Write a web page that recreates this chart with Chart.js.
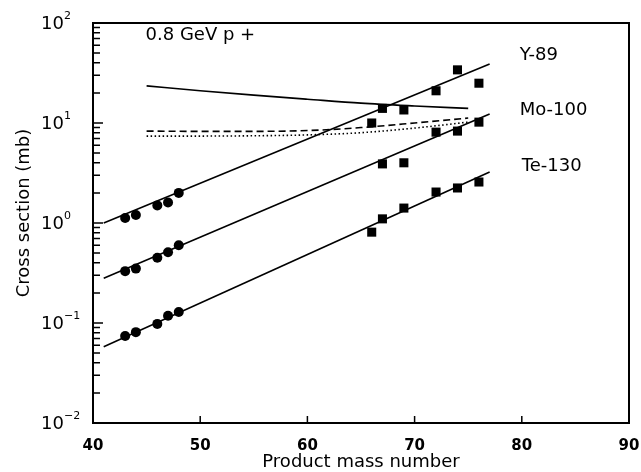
<!DOCTYPE html>
<html>
<head>
<meta charset="utf-8">
<script src="https://cdn.jsdelivr.net/npm/chart.js@4.4.1/dist/chart.umd.min.js"></script>
<style>
  html, body { margin: 0; padding: 0; background: #fff; }
</style>
</head>
<body>
<canvas id="chart1" width="641" height="472"></canvas>
<script>
// measured cross sections, 0.8 GeV protons
const massLow = [43, 44, 46, 47, 48];
const massHigh = [66, 67, 69, 72, 74, 76];
const massHighMo = [67, 69, 72, 74, 76];

const y89Low = [1.12, 1.2, 1.5, 1.6, 2.0];
const y89High = [10, 14, 13.5, 21, 34, 25];
const mo100Low = [0.33, 0.35, 0.45, 0.51, 0.6];
const mo100High = [3.9, 4.0, 8.1, 8.3, 10.2];
const te130Low = [0.074, 0.081, 0.098, 0.118, 0.129];
const te130High = [0.81, 1.1, 1.41, 2.04, 2.24, 2.57];

// fitted exponential lines
const fitMass = [41, 77];
const y89Fit = [1.0, 39];
const mo100Fit = [0.28, 12.3];
const te130Fit = [0.058, 3.24];

// calculated curves
const theoryMass = [45, 50, 55, 60, 65, 70, 75];
const theorySolid = [23.5, 21, 19, 17.3, 15.8, 14.8, 14.0];
const theoryDashed = [8.3, 8.25, 8.25, 8.4, 9.0, 10.0, 11.2];
const theoryDotted = [7.4, 7.4, 7.45, 7.6, 8.0, 8.9, 10.2];

const xTicks = [40, 50, 60, 70, 80, 90];
const yDecades = [-2, -1, 0, 1, 2];

// annotation text: [label, mass, cross section]
const notes = [
  ['0.8 GeV p +', 44.9, 76],
  ['Y-89', 79.8, 48],
  ['Mo-100', 79.8, 13.5],
  ['Te-130', 80, 3.7]
];

const FONT = '"DejaVu Sans", sans-serif';

const pts = (xs, ys) => xs.map((x, i) => ({ x: x, y: ys[i] }));

function marks(xs, ys, style) {
  return {
    type: 'scatter',
    data: pts(xs, ys),
    pointStyle: style,
    pointRadius: style === 'rect' ? 6.4 : 5,
    backgroundColor: '#000',
    borderColor: '#000',
    borderWidth: 0
  };
}

function line(xs, ys, dash, smooth) {
  return {
    type: 'line',
    data: pts(xs, ys),
    borderColor: '#000',
    borderWidth: 1.6,
    borderDash: dash,
    pointRadius: 0,
    cubicInterpolationMode: smooth ? 'monotone' : 'default',
    tension: 0,
    fill: false
  };
}

// frame, inward ticks, y labels with exponents, axis titles and notes
const decor = {
  id: 'decor',
  afterDraw(chart) {
    const { ctx, chartArea: a, scales } = chart;
    const xs = scales.x, ys = scales.y;
    ctx.save();
    ctx.strokeStyle = '#000';
    ctx.lineWidth = 2;
    ctx.beginPath();
    ctx.moveTo(a.left, a.top);
    ctx.lineTo(a.right, a.top);
    ctx.lineTo(a.right, a.bottom);
    ctx.stroke();

    ctx.lineWidth = 1.5;
    ctx.beginPath();
    xTicks.slice(1, -1).forEach(v => {
      const px = xs.getPixelForValue(v);
      ctx.moveTo(px, a.bottom);
      ctx.lineTo(px, a.bottom - 7);
    });
    yDecades.forEach((d, i) => {
      const py = ys.getPixelForValue(Math.pow(10, d));
      if (i > 0 && i < yDecades.length - 1) {
        ctx.moveTo(a.left, py);
        ctx.lineTo(a.left + 10, py);
      }
      if (i < yDecades.length - 1) {
        for (let m = 2; m <= 9; m++) {
          const pm = ys.getPixelForValue(m * Math.pow(10, d));
          ctx.moveTo(a.left, pm);
          ctx.lineTo(a.left + 7, pm);
        }
      }
    });
    ctx.stroke();

    ctx.fillStyle = '#000';
    ctx.textBaseline = 'middle';
    yDecades.forEach(d => {
      const py = ys.getPixelForValue(Math.pow(10, d));
      const exp = d < 0 ? '\u2212' + Math.abs(d) : String(d);
      ctx.font = '11px ' + FONT;
      ctx.textAlign = 'left';
      ctx.fillText(exp, 64, py - 7);
      ctx.font = '18px ' + FONT;
      ctx.textAlign = 'right';
      ctx.fillText('10', 64, py + 1);
    });

    ctx.font = '18px ' + FONT;
    ctx.textAlign = 'center';
    ctx.fillText('Product mass number', (a.left + a.right) / 2, 462);
    ctx.save();
    ctx.translate(24, 213);
    ctx.rotate(-Math.PI / 2);
    ctx.fillText('Cross section (mb)', 0, 0);
    ctx.restore();

    ctx.textAlign = 'left';
    notes.forEach(([t, mx, my]) => {
      ctx.fillText(t, xs.getPixelForValue(mx), ys.getPixelForValue(my));
    });
    ctx.restore();
  }
};

new Chart(document.getElementById('chart1').getContext('2d'), {
  data: {
    datasets: [
      marks(massLow, y89Low, 'circle'),
      marks(massHigh, y89High, 'rect'),
      marks(massLow, mo100Low, 'circle'),
      marks(massHighMo, mo100High, 'rect'),
      marks(massLow, te130Low, 'circle'),
      marks(massHigh, te130High, 'rect'),
      line(fitMass, y89Fit, [], false),
      line(fitMass, mo100Fit, [], false),
      line(fitMass, te130Fit, [], false),
      line(theoryMass, theorySolid, [], true),
      line(theoryMass, theoryDashed, [7, 4], true),
      line(theoryMass, theoryDotted, [1.5, 2.5], true)
    ]
  },
  options: {
    responsive: false,
    animation: false,
    layout: { padding: { left: 0, top: 23, right: 12, bottom: 0 } },
    plugins: { legend: { display: false }, tooltip: { enabled: false } },
    scales: {
      x: {
        type: 'linear',
        min: 40,
        max: 90,
        afterFit(s) { s.height = 49; s.paddingLeft = 0; s.paddingRight = 0; },
        afterBuildTicks(s) { s.ticks = xTicks.map(v => ({ value: v })); },
        grid: { display: false },
        border: { display: true, color: '#000', width: 2 },
        ticks: {
          color: '#000',
          padding: 6,
          maxRotation: 0,
          font: { family: FONT, size: 15, weight: 'bold' }
        }
      },
      y: {
        type: 'logarithmic',
        min: 0.01,
        max: 100,
        afterFit(s) { s.width = 93; s.paddingTop = 0; s.paddingBottom = 0; },
        grid: { display: false },
        border: { display: true, color: '#000', width: 2 },
        ticks: { display: false }
      }
    }
  },
  plugins: [decor]
});
</script>
</body>
</html>
